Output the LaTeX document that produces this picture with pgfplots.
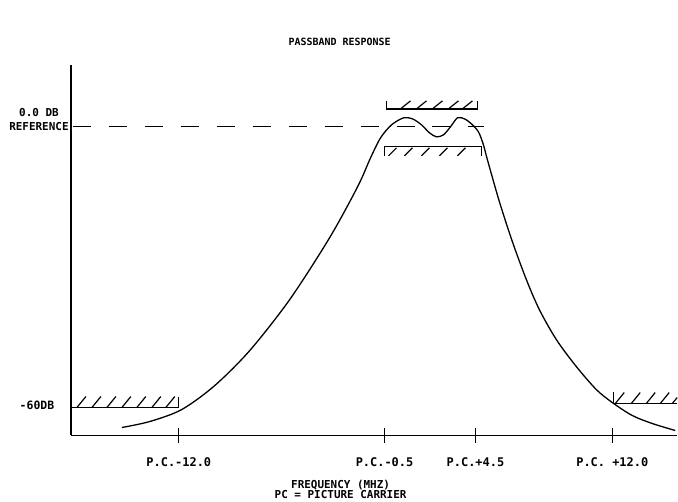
\documentclass[border=0pt]{standalone}
\usepackage{pgfplots}
\pgfplotsset{compat=1.18}
\usepackage{fontspec}
\setmainfont{DejaVu Sans Mono}
\begin{document}
\begin{tikzpicture}
\begin{axis}[
  scale only axis, width=607bp, height=371bp,
  xmin=71, xmax=678, ymin=64, ymax=435,
  axis x line=bottom, axis y line=left,
  axis line style={-, line width=1.6bp},
  xtick={179,385,476,613},
  xticklabels={P.C.-12.0, P.C.-0.5, P.C.+4.5, P.C. +12.0},
  ytick=\empty,
  tick align=center, major tick length=15bp,
  tick style={line width=1.2bp, black},
  xticklabel style={font=\fontsize{12}{13}\selectfont\bfseries, yshift=-11bp},
  clip=false,
  unbounded coords=jump,
]
\path (axis cs:0,0) rectangle (axis cs:678,500);
% response curve
\addplot[black, line width=1.3bp, smooth] coordinates {
(122,72)(150,78)(182,90)(215,114)(250,149)(290,200)(330,262)(358,313)(371,342)
(381,362)(392,375)(404,382)(413,381)(422,375)(430,367)(437,363)(444,365)(451,373)
(458,382)(465,381)(472,376)(479,368)(484,355)(488,340)(500,298)(513,258)(527,220)
(540,190)(557,160)(577,133)(597,110)(613,97)(633,84)(653,76)(676,69)};
% 0 dB reference dashed
\addplot[black, line width=1.2bp, dash pattern=on 18bp off 18bp] coordinates {(73,373)(485,373)};
% -60 dB limit left
\addplot[black, line width=1.3bp] coordinates {(71,92)(179,92)(179,103)};
\addplot[black, line width=1.2bp] coordinates {
(77,92)(86,103)(nan,nan)(92,92)(101,103)(nan,nan)(107,92)(116,103)(nan,nan)
(122,92)(131,103)(nan,nan)(137,92)(146,103)(nan,nan)(152,92)(161,103)(nan,nan)
(166,92)(175,103)};
% -60 dB limit right
\addplot[black, line width=1.3bp] coordinates {(614,108)(614,96)(678,96)};
\addplot[black, line width=1.2bp] coordinates {
(616,96)(625,107)(nan,nan)(632,96)(641,107)(nan,nan)(647,96)(656,107)(nan,nan)
(661,96)(670,107)(nan,nan)(673,96)(678,102)};
% upper passband limit
\addplot[black, line width=1.3bp] coordinates {(387,399)(387,391)(478,391)(478,399)};
\addplot[black, line width=1.2bp] coordinates {
(401,391)(411,399)(nan,nan)(417,391)(427,399)(nan,nan)(433,391)(443,399)(nan,nan)
(449,391)(459,399)(nan,nan)(463,391)(473,399)};
% lower passband limit
\addplot[black, line width=1.3bp] coordinates {(385,344)(385,353)(482,353)(482,344)};
\addplot[black, line width=1.2bp] coordinates {
(389,344)(397,352)(nan,nan)(405,344)(413,352)(nan,nan)(422,344)(430,352)(nan,nan)
(440,344)(448,352)(nan,nan)(458,344)(466,352)};
% texts
\node[font=\fontsize{10}{10}\selectfont\bfseries] at (axis cs:340,458) {PASSBAND RESPONSE};
\node[font=\fontsize{11}{14}\selectfont\bfseries, align=center] at (axis cs:39,380) {0.0 DB\\REFERENCE};
\node[font=\fontsize{11.5}{12}\selectfont\bfseries] at (axis cs:37,94) {-60DB};
\node[font=\fontsize{11}{10}\selectfont\bfseries, align=center] at (axis cs:341,10) {FREQUENCY (MHZ)\\PC = PICTURE CARRIER};
\end{axis}
\end{tikzpicture}
\end{document}
